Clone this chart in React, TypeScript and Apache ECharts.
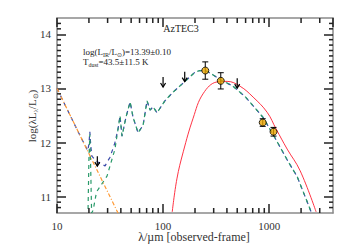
import React, { useEffect, useRef } from "react";
import * as echarts from "echarts";

// ---- axis ranges & ticks ----
const X_MIN = 10;
const X_MAX = 4000;
const Y_MIN = 10.7;
const Y_MAX = 14.3;
const xMajorTicks = [10, 100, 1000];
const xMinorTicks = [20, 30, 40, 50, 60, 70, 80, 90, 200, 300, 400, 500, 600, 700, 800, 900, 2000, 3000];
const yMajorTicks = [11, 12, 13, 14];
const yMinorTicks = [
  10.8, 10.9,
  11.1, 11.2, 11.3, 11.4, 11.5, 11.6, 11.7, 11.8, 11.9,
  12.1, 12.2, 12.3, 12.4, 12.5, 12.6, 12.7, 12.8, 12.9,
  13.1, 13.2, 13.3, 13.4, 13.5, 13.6, 13.7, 13.8, 13.9,
  14.1, 14.2,
];

// ---- photometry (detections) ----
const obsWave = [250, 350, 870, 1100];
const obsLogL = [13.33, 13.14, 12.37, 12.2];
const obsErr = [0.16, 0.15, 0.07, 0.08];

// ---- upper limits ----
const limWave = [24, 100, 160, 500];
const limLogL = [11.75, 13.21, 13.31, 13.19];

// ---- power law (orange dash-dot) ----
const powWave = [10, 37.6];
const powLogL = [13.0, 10.7];

// ---- total SED (blue dashed) ----
const totWave = [10, 13, 16, 19.5, 20.0, 20.4, 20.8, 21.3, 23, 25, 28.4, 31.6, 35.2, 37.6, 39.3, 41.0, 44.7, 48.9, 52.1, 58.1, 64.8, 70.6, 75.4, 80.5, 87.7, 104, 124, 161, 200, 223, 250, 296, 352, 450, 600, 880, 1140, 1500, 1840, 2490];
const totLogL = [13.0, 12.54, 12.18, 11.85, 11.97, 12.2, 11.95, 11.75, 11.68, 11.62, 11.57, 11.73, 12.0, 12.25, 12.49, 12.12, 12.47, 12.75, 12.47, 12.18, 12.32, 12.77, 12.6, 12.66, 12.55, 12.77, 12.93, 13.13, 13.3, 13.33, 13.33, 13.25, 13.15, 13.05, 12.84, 12.46, 12.08, 11.66, 11.37, 10.72];

// ---- starburst template (green dashed) ----
const sbWave = [19.6, 20.0, 20.4, 20.8, 21.2, 21.9, 23.6, 29.6, 35.2, 37.6, 39.3, 41.0, 44.7, 48.9, 52.1, 58.1, 64.8, 70.6, 75.4, 80.5, 87.7, 104, 124, 161, 200, 223, 250, 296, 352, 450, 600, 880, 1140, 1500, 1840, 2490];
const sbLogL = [10.7, 11.7, 12.15, 11.5, 10.7, 10.75, 11.09, 11.38, 11.88, 12.25, 12.49, 12.12, 12.47, 12.75, 12.47, 12.18, 12.32, 12.77, 12.6, 12.66, 12.55, 12.77, 12.93, 13.13, 13.3, 13.33, 13.33, 13.25, 13.15, 13.05, 12.84, 12.46, 12.08, 11.66, 11.37, 10.72];

// ---- greybody (red solid) ----
const gbWave = [122, 135, 155, 192, 238, 323, 402, 532, 706, 957, 1164, 1479, 1960, 2773];
const gbLogL = [10.72, 11.33, 11.83, 12.45, 12.9, 13.12, 13.13, 13.04, 12.84, 12.56, 12.25, 11.88, 11.48, 10.72];

const FRAME = "#8a8a8a";
const TICK = "#222222";
const TICK_W = 1.5;
const SERIF = "Liberation Serif";

const zip = (a: number[], b: number[]) => a.map((v, i) => [v, b[i]]);

export default function App() {
  const ref = useRef<HTMLDivElement>(null);
  useEffect(() => {
    if (!ref.current) return;
    const chart = echarts.init(ref.current, null, { renderer: "svg" });

    const option: any = {
      animation: false,
      backgroundColor: "#ffffff",
      grid: { left: 57, top: 18, width: 276, height: 195 },
      xAxis: [
        {
          type: "log",
          min: X_MIN,
          max: X_MAX,
          position: "bottom",
          splitLine: { show: false },
          axisLine: { show: true, lineStyle: { color: FRAME, width: 1.5 } },
          axisTick: { show: true, inside: true, length: 9, lineStyle: { color: TICK, width: TICK_W } },
          axisLabel: {
            show: true,
            margin: 7,
            fontFamily: SERIF,
            fontSize: 11,
            color: "#333",
            showMaxLabel: false,
            formatter: (v: number) => (xMajorTicks.includes(Math.round(v)) ? String(Math.round(v)) : ""),
          },
        },
        {
          type: "log",
          min: X_MIN,
          max: X_MAX,
          position: "top",
          splitLine: { show: false },
          axisLine: { show: true, lineStyle: { color: FRAME, width: 1.5 } },
          axisTick: { show: true, inside: true, length: 9, lineStyle: { color: TICK, width: TICK_W } },
          axisLabel: { show: false },
        },
      ],
      yAxis: [
        {
          type: "value",
          min: Y_MIN,
          max: Y_MAX,
          position: "left",
          splitLine: { show: false },
          axisLine: { show: true, lineStyle: { color: FRAME, width: 1.5 } },
          axisTick: { show: true, inside: true, length: 9, customValues: yMajorTicks, lineStyle: { color: TICK, width: TICK_W } },
          axisLabel: { show: true, customValues: yMajorTicks, margin: 6, fontFamily: SERIF, fontSize: 11, color: "#333" },
        },
        {
          type: "value",
          min: Y_MIN,
          max: Y_MAX,
          position: "right",
          splitLine: { show: false },
          axisLine: { show: true, lineStyle: { color: FRAME, width: 1.5 } },
          axisTick: { show: true, inside: true, length: 9, customValues: yMajorTicks, lineStyle: { color: TICK, width: TICK_W } },
          axisLabel: { show: false },
        },
      ],
      series: [
        {
          name: "x minor ticks",
          type: "custom",
          coordinateSystem: "cartesian2d",
          data: xMinorTicks.map((v) => [v, Y_MIN]),
          encode: { x: 0, y: 1 },
          z: 20,
          renderItem: (_p: any, api: any) => {
            const v = api.value(0);
            const b = api.coord([v, Y_MIN]);
            const t = api.coord([v, Y_MAX]);
            return {
              type: "group",
              children: [
                { type: "line", shape: { x1: b[0], y1: b[1], x2: b[0], y2: b[1] - 5 }, style: { stroke: TICK, lineWidth: TICK_W } },
                { type: "line", shape: { x1: t[0], y1: t[1], x2: t[0], y2: t[1] + 5 }, style: { stroke: TICK, lineWidth: TICK_W } },
              ],
            };
          },
        },
        {
          name: "y minor ticks",
          type: "custom",
          coordinateSystem: "cartesian2d",
          data: yMinorTicks.map((v) => [X_MIN, v]),
          encode: { x: 0, y: 1 },
          z: 20,
          renderItem: (_p: any, api: any) => {
            const v = api.value(1);
            const l = api.coord([X_MIN, v]);
            const r = api.coord([X_MAX, v]);
            return {
              type: "group",
              children: [
                { type: "line", shape: { x1: l[0], y1: l[1], x2: l[0] + 4, y2: l[1] }, style: { stroke: TICK, lineWidth: TICK_W } },
                { type: "line", shape: { x1: r[0], y1: r[1], x2: r[0] - 4, y2: r[1] }, style: { stroke: TICK, lineWidth: TICK_W } },
              ],
            };
          },
        },
        {
          name: "power law",
          type: "line",
          data: zip(powWave, powLogL),
          symbol: "none",
          lineStyle: { color: "#ff9933", width: 1.2, type: [4, 2, 1, 2] },
          z: 7,
        },
        {
          name: "greybody",
          type: "line",
          data: zip(gbWave, gbLogL),
          smooth: 0.4,
          symbol: "none",
          lineStyle: { color: "#ff3344", width: 1 },
          z: 4,
        },
        {
          name: "total",
          type: "line",
          data: zip(totWave, totLogL),
          symbol: "none",
          lineStyle: { color: "#3848a8", width: 1.2, type: [4, 4] },
          z: 5,
        },
        {
          name: "starburst",
          type: "line",
          data: zip(sbWave, sbLogL),
          symbol: "none",
          lineStyle: { color: "#2a9a6a", width: 1.2, type: [4, 4], dashOffset: 4 },
          z: 6,
        },
        {
          name: "limits",
          type: "custom",
          coordinateSystem: "cartesian2d",
          data: zip(limWave, limLogL),
          encode: { x: 0, y: 1 },
          z: 9,
          renderItem: (_p: any, api: any) => {
            const p = api.coord([api.value(0), api.value(1)]);
            return {
              type: "group",
              children: [
                { type: "line", shape: { x1: p[0], y1: p[1], x2: p[0], y2: p[1] + 10 }, style: { stroke: "#000", lineWidth: 1.2 } },
                { type: "polyline", shape: { points: [[p[0] - 2.5, p[1] + 6], [p[0], p[1] + 10], [p[0] + 2.5, p[1] + 6]] }, style: { stroke: "#000", lineWidth: 1.2, fill: "none" } },
              ],
            };
          },
        },
        {
          name: "errors",
          type: "custom",
          coordinateSystem: "cartesian2d",
          data: obsWave.map((w, i) => [w, obsLogL[i], obsErr[i]]),
          encode: { x: 0, y: 1 },
          z: 9,
          renderItem: (_p: any, api: any) => {
            const w = api.value(0);
            const c = api.value(1);
            const e = api.value(2);
            const lo = api.coord([w, c - e]);
            const hi = api.coord([w, c + e]);
            const st = { stroke: "#000", lineWidth: 1 };
            return {
              type: "group",
              children: [
                { type: "line", shape: { x1: lo[0], y1: lo[1], x2: hi[0], y2: hi[1] }, style: st },
                { type: "line", shape: { x1: lo[0] - 3, y1: lo[1], x2: lo[0] + 3, y2: lo[1] }, style: st },
                { type: "line", shape: { x1: hi[0] - 3, y1: hi[1], x2: hi[0] + 3, y2: hi[1] }, style: st },
              ],
            };
          },
        },
        {
          name: "data",
          type: "scatter",
          data: zip(obsWave, obsLogL),
          symbol: "circle",
          symbolSize: 7,
          itemStyle: { color: "#e8a400", borderColor: "#000", borderWidth: 1 },
          z: 10,
        },
      ],
      graphic: [
        {
          type: "text",
          x: 181,
          y: 28,
          style: { text: "AzTEC3", fontFamily: SERIF, fontSize: 10, fill: "#222", textAlign: "center", textVerticalAlign: "middle" },
        },
        {
          type: "text",
          x: 83,
          y: 52,
          style: {
            text: "{a|log(L}{s|IR}{a|/L}{s|⊙}{a|)=13.39±0.10}",
            textVerticalAlign: "middle",
            rich: {
              a: { fontFamily: SERIF, fontSize: 9, fill: "#222", lineHeight: 12 },
              s: { fontFamily: SERIF, fontSize: 6, fill: "#222", lineHeight: 12, verticalAlign: "bottom" },
            },
          },
        },
        {
          type: "text",
          x: 83,
          y: 62,
          style: {
            text: "{a|T}{s|dust}{a|=43.5±11.5 K}",
            textVerticalAlign: "middle",
            rich: {
              a: { fontFamily: SERIF, fontSize: 9, fill: "#222", lineHeight: 12 },
              s: { fontFamily: SERIF, fontSize: 6, fill: "#222", lineHeight: 12, verticalAlign: "bottom" },
            },
          },
        },
        {
          type: "text",
          x: 32,
          y: 116,
          rotation: Math.PI / 2,
          style: {
            text: "{a|log(λL}{s|λ}{a|/L}{s|⊙}{a|)}",
            textAlign: "center",
            textVerticalAlign: "middle",
            rich: {
              a: { fontFamily: SERIF, fontSize: 11, fill: "#333", lineHeight: 14 },
              s: { fontFamily: SERIF, fontSize: 7, fill: "#333", lineHeight: 14, verticalAlign: "bottom" },
            },
          },
        },
        {
          type: "text",
          x: 194,
          y: 237,
          style: { text: "λ/µm [observed-frame]", fontFamily: SERIF, fontSize: 12, fill: "#333", textAlign: "center", textVerticalAlign: "middle" },
        },
      ],
    };
    chart.setOption(option);
    return () => chart.dispose();
  }, []);

  return (
    <div
      ref={ref}
      style={{ position: "fixed", left: 0, top: 0, width: 350, height: 250, background: "#fff" }}
    />
  );
}
